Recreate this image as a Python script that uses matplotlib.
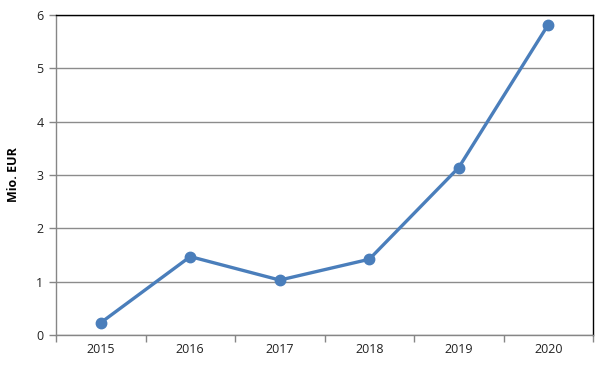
import matplotlib.pyplot as plt
import numpy as np

years = ['2015', '2016', '2017', '2018', '2019', '2020']
values = [0.23, 1.47, 1.03, 1.42, 3.14, 5.82]

plt.rcParams['font.family'] = ['Open Sans', 'DejaVu Sans']

fig = plt.figure(figsize=(6.08, 3.65), dpi=100)
ax = fig.add_axes([56 / 608, 30 / 365, 537 / 608, 320 / 365])

x = np.arange(len(years))
ax.plot(x, values, color='#4A7EBB', linewidth=2.4, marker='o', markersize=7.5,
        markerfacecolor='#4A7EBB', markeredgecolor='#4A7EBB', solid_capstyle='round', zorder=3)

ax.set_xlim(-0.5, len(years) - 0.5)
ax.set_ylim(0, 6)
ax.set_yticks(range(0, 7))
ax.set_xticks(x)
ax.set_xticklabels(years)
ax.set_xticks(np.arange(-0.5, len(years)), minor=True)
ax.tick_params(axis='x', which='major', length=0, labelsize=9, pad=6, colors='#222222')
ax.tick_params(axis='x', which='minor', length=5, color='#868686', width=1)
ax.tick_params(axis='y', length=5, color='#868686', width=1, labelsize=9, colors='#222222', pad=4)
ax.tick_params(axis='y', color='#868686')

ax.grid(axis='y', color='#8C8C8C', linewidth=1)
ax.set_axisbelow(True)

ax.spines['left'].set_color('#868686')
ax.spines['bottom'].set_color('#868686')
ax.spines['top'].set_color('#000000')
ax.spines['right'].set_color('#000000')
for s in ax.spines.values():
    s.set_linewidth(1)

ax.set_ylabel('Mio. EUR', fontsize=9, fontweight='bold', labelpad=12)

fig.savefig('out.png', dpi=100)
